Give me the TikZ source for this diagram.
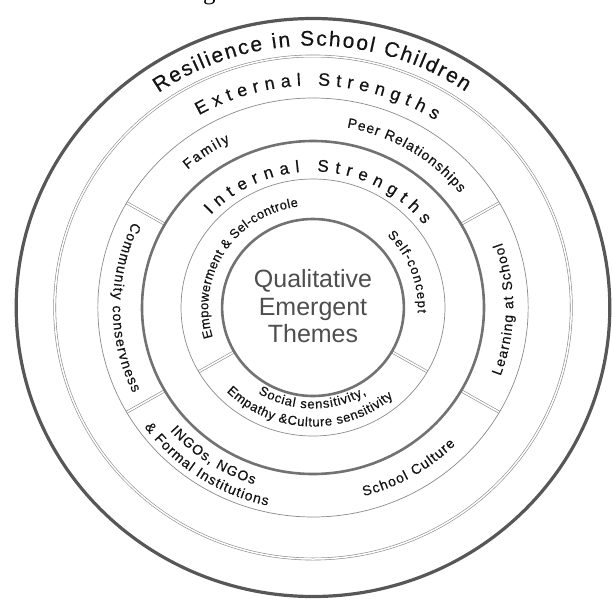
\documentclass[tikz,border=0pt]{standalone}
\usepackage{fontspec}
\setmainfont{Liberation Sans}
\newfontfamily\pageserif{Liberation Serif}
\newfontfamily\labelsans{Liberation Sans}[FakeBold=0.5]
\usetikzlibrary{decorations.text}

\definecolor{ringdark}{HTML}{575757}
\definecolor{ringmid}{HTML}{727272}
\definecolor{ringthin}{HTML}{8A8A8A}
\definecolor{labelink}{HTML}{141414}
\definecolor{coreink}{HTML}{4E4E4E}

\newcommand\fsz[1]{\fontsize{#1}{#1}\selectfont}

% text set along an arc: size, baseline radius, start angle, end angle, text
\newcommand\ringtext[5]{%
  \path[decorate, decoration={text along path, text align={fit to path},
        text color=labelink, text={|\labelsans\fsz{#1}|#5}}]
    (#3:#2) arc[start angle=#3, end angle=#4, radius=#2];
}

\tikzset{
  outerring/.style={draw=ringdark, line width=3.2pt},
  doublering/.style={draw=ringthin, line width=0.6pt, double=white, double distance=1.5pt},
  thinring/.style={draw=ringthin, line width=0.7pt},
  thickring/.style={draw=ringmid, line width=2.6pt},
  divider/.style={draw=ringthin, line width=0.6pt, double=white, double distance=1.6pt},
  coretext/.style={font=\fsz{25}, text=coreink, inner sep=0pt, anchor=base},
  pagetext/.style={font=\pageserif\fsz{25}, text=black, inner sep=0pt},
}

\begin{document}
\begin{tikzpicture}[x=1pt,y=1pt]
\useasboundingbox (-313,-290.5) rectangle (299,307.5);
\clip (-313,-290.5) rectangle (299,307.5);

% running text of the page above the figure
\node[pagetext, anchor=base west] (runon) at (-306,308) {different outstanding circumstances.};

\begin{scope}[xscale=1.027]
  % segment dividers
  \foreach \a in {30,90,...,330}
    \draw[divider] (\a:166.5) -- (\a:209.5);
  \foreach \a in {90,210,330}
    \draw[divider] (\a:88.5) -- (\a:128.5);

  % rings
  \draw[outerring] (0,0) circle[radius=289];
  \draw[doublering] (0,0) circle[radius=251.5];
  \draw[thinring] (0,0) circle[radius=209.5];
  \draw[thickring] (0,0) circle[radius=166.5];
  \draw[thinring] (0,0) circle[radius=128.5];
  \draw[thickring] (0,0) circle[radius=88.5];

  % ring titles
  \ringtext{21}{262}{125}{55.5}{Resilience in School Children}
  \ringtext{18}{222}{120}{57.5}{External Strengths}
  \ringtext{17}{136}{137}{37.5}{Internal Strengths}

  % external strengths
  \ringtext{14}{184}{131.5}{116}{Family}
  \ringtext{14}{183}{79.6}{38.7}{Peer Relationships}
  \ringtext{14}{195}{-20.6}{19.4}{Learning at School}
  \ringtext{14}{195}{154}{206}{Community conservness}
  \ringtext{14}{186}{221.5}{252}{INGOs, NGOs}
  \ringtext{14}{203}{216}{257.4}{{\&} Formal Institutions}
  \ringtext{14}{195}{284.7}{315.4}{School Culture}

  % internal strengths
  \ringtext{13}{102}{197}{98}{Empowerment {\&} Sel-controle}
  \ringtext{13}{102}{45}{-3}{Self-concept}
  \ringtext{13}{101}{238}{301}{Social sensitivity,}
  \ringtext{13}{119}{225}{311}{Empathy {\&}Culture sensitivity}
\end{scope}

% core
\node[coretext] (core1) at (0,20.5) {Qualitative};
\node[coretext] (core2) at (0,-7.5) {Emergent};
\node[coretext] (core3) at (0,-34.5) {Themes};
\end{tikzpicture}
\end{document}
